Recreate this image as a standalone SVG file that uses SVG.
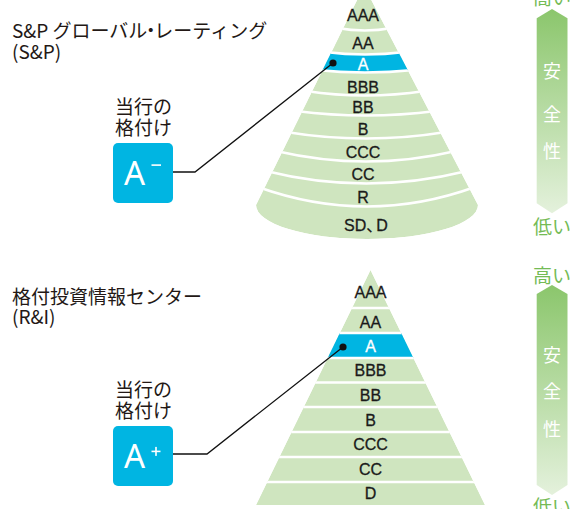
<svg xmlns="http://www.w3.org/2000/svg" width="571" height="509" viewBox="0 0 571 509">
<style>
.bg{fill:#ffffff}
.cone{fill:#cfe5bf}
.band{fill:#00b5e2}
.sep{fill:none;stroke:#ffffff;stroke-width:2.5}
.lab{font-family:"Liberation Sans","Noto Sans CJK JP",sans-serif;font-size:16px;fill:#1a1a1a;stroke:#1a1a1a;stroke-width:0.3;text-anchor:middle}
.labw{fill:#ffffff;stroke:#ffffff}
.ttl{font-family:"Noto Sans CJK JP","Noto Sans",sans-serif;font-size:19px;fill:#231815}
.box{fill:#00b5e2}
.boxt{font-family:"Noto Sans","Liberation Sans",sans-serif;fill:#ffffff}
.con{fill:none;stroke:#111111;stroke-width:1.3}
.dot{fill:#111111}
.arr{fill:url(#gg)}
.arrt{font-family:"Noto Sans CJK JP",sans-serif;font-size:18px;fill:#ffffff;text-anchor:middle}
.hl{font-family:"Noto Sans CJK JP",sans-serif;font-size:19px;fill:#74bb55}
</style>
<defs>
<linearGradient id="gg" x1="0" y1="0" x2="0" y2="1">
<stop offset="0" stop-color="#8bc66c"/>
<stop offset="1" stop-color="#e4f1dc"/>
</linearGradient>
<clipPath id="c1"><path d="M364,-14 L256,205 A111,34 0 0 0 478,205 Z"/></clipPath>
<clipPath id="c2"><path d="M370.5,270 L256,505 L485,505 Z"/></clipPath>
</defs>
<rect class="bg" x="0" y="0" width="571" height="509"/>

<g id="sp-title">
<text class="ttl" x="12" y="37.5">S&amp;P グローバル<tspan dx="-6">・</tspan><tspan dx="-6">レーティング</tspan></text>
<text class="ttl" x="12" y="58.5">(S&amp;P)</text>
</g>

<g id="sp-pyramid">
<g clip-path="url(#c1)">
<path class="cone" d="M364,-14 L256,205 A111,34 0 0 0 478,205 Z"/>
<path class="band" d="M316,52 Q365,57 412,52 L418,70 Q365,75 310,70 Z"/>
<path class="sep" d="M337,28 Q365,33 392,28"/>
<path class="sep" d="M325,52 Q365,57 405,52"/>
<path class="sep" d="M316,70 Q365,75 414,70"/>
<path class="sep" d="M306,91 Q365,100 425,91"/>
<path class="sep" d="M296,111 Q366,120 436,111"/>
<path class="sep" d="M286,132 Q366,145 446,132"/>
<path class="sep" d="M276,151 Q366,172 456,151"/>
<path class="sep" d="M266,171 Q366,196 467,171"/>
<path class="sep" d="M258,187 Q367,226 475,187"/>
</g>
<text class="lab" x="363" y="20.5">AAA</text>
<text class="lab" x="363" y="48.5">AA</text>
<text class="lab labw" x="363" y="70">A</text>
<text class="lab" x="363" y="93">BBB</text>
<text class="lab" x="363" y="113">BB</text>
<text class="lab" x="363" y="134.5">B</text>
<text class="lab" x="363" y="157.5">CCC</text>
<text class="lab" x="363" y="179.5">CC</text>
<text class="lab" x="363" y="203">R</text>
<text class="lab" x="366" y="230.5">SD、<tspan dx="-6">D</tspan></text>
</g>

<g id="sp-rating">
<text class="ttl" x="115" y="113.5">当行の</text>
<text class="ttl" x="115" y="135">格付け</text>
<rect class="box" x="113" y="143" width="60" height="60" rx="5"/>
<text class="boxt" x="124" y="185" font-size="33">A</text>
<rect x="151.5" y="164.3" width="9.5" height="1.6" fill="#ffffff"/>
</g>

<g id="ri-title">
<text class="ttl" x="12" y="304">格付投資情報センター</text>
<text class="ttl" x="12" y="324">(R&amp;I)</text>
</g>

<g id="ri-pyramid">
<g clip-path="url(#c2)">
<path class="cone" d="M370.5,270 L256,505 L485,505 Z"/>
<rect class="band" x="250" y="333" width="240" height="25"/>
<line class="sep" x1="250" y1="308" x2="490" y2="308"/>
<line class="sep" x1="250" y1="333" x2="490" y2="333"/>
<line class="sep" x1="250" y1="358" x2="490" y2="358"/>
<line class="sep" x1="250" y1="382.5" x2="490" y2="382.5"/>
<line class="sep" x1="250" y1="407" x2="490" y2="407"/>
<line class="sep" x1="250" y1="432" x2="490" y2="432"/>
<line class="sep" x1="250" y1="457" x2="490" y2="457"/>
<line class="sep" x1="250" y1="482" x2="490" y2="482"/>
</g>
<text class="lab" x="370.5" y="298">AAA</text>
<text class="lab" x="370.5" y="327.5">AA</text>
<text class="lab labw" x="370.5" y="351.5">A</text>
<text class="lab" x="370.5" y="376">BBB</text>
<text class="lab" x="370.5" y="400.5">BB</text>
<text class="lab" x="370.5" y="426">B</text>
<text class="lab" x="370.5" y="450">CCC</text>
<text class="lab" x="370.5" y="475">CC</text>
<text class="lab" x="370.5" y="499">D</text>
</g>

<g id="ri-rating">
<text class="ttl" x="115" y="396.5">当行の</text>
<text class="ttl" x="115" y="418">格付け</text>
<rect class="box" x="113" y="426" width="60" height="60" rx="5"/>
<text class="boxt" x="124" y="468" font-size="33">A</text>
<rect x="151.5" y="450.6" width="9" height="1.6" fill="#ffffff"/>
<rect x="155.2" y="446.9" width="1.6" height="9" fill="#ffffff"/>
</g>

<g id="connectors">
<polyline class="con" points="173,172 195,172 333,63"/>
<circle class="dot" cx="333" cy="63" r="3.6"/>
<polyline class="con" points="173,454 207,454 343,347"/>
<circle class="dot" cx="343" cy="347" r="3.6"/>
</g>

<g id="safety-top">
<text class="hl" x="533" y="4.7">高い</text>
<polygon class="arr" points="552,9 567.5,18.3 567.5,203.3 552,213.3 536.7,203.3 536.7,18.3"/>
<text class="arrt" x="552" y="77.5">安</text>
<text class="arrt" x="552" y="120.5">全</text>
<text class="arrt" x="552" y="157.5">性</text>
<text class="hl" x="533" y="233.5">低い</text>
</g>

<g id="safety-bottom">
<text class="hl" x="533" y="282.5">高い</text>
<polygon class="arr" points="552,285 567.5,294 567.5,485 552,495 536.7,485 536.7,294"/>
<text class="arrt" x="552" y="361.5">安</text>
<text class="arrt" x="552" y="398">全</text>
<text class="arrt" x="552" y="435.5">性</text>
<text class="hl" x="533" y="513.8">低い</text>
</g>
</svg>
